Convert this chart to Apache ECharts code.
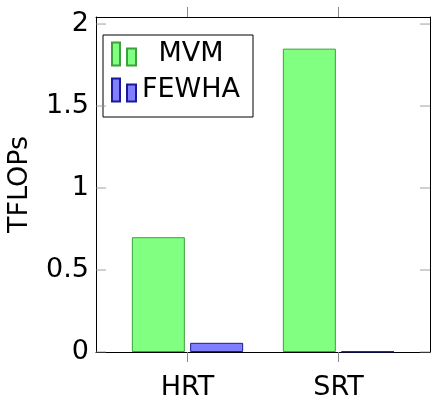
<!DOCTYPE html>
<html>
<head>
<meta charset="utf-8">
<script src="https://cdn.jsdelivr.net/npm/echarts@6/dist/echarts.min.js"></script>
<style>
  html, body { margin: 0; padding: 0; background: #fff; }
  #chart { width: 431px; height: 396px; }
</style>
</head>
<body>
<div id="chart"></div>
<script>
var categories = ['HRT', 'SRT'];
var mvm = [0.70, 1.85];
var fewha = [0.056, 0.003];
var yTicks = [0, 0.5, 1, 1.5, 2];

var font = 'DejaVu Sans';
var tickColor = '#8a8a8a';
var yMax = 2.043;
var icon = 'path://M0,0H8V23H0Z M15,6H24V23H15Z';

var frameX = function (pos) {
  return {
    gridIndex: 0, type: 'value', position: pos, min: 0, max: 1,
    axisLine: { show: true, onZero: false, lineStyle: { color: '#000', width: 1 } },
    axisTick: { show: false }, axisLabel: { show: false }, splitLine: { show: false }
  };
};
var frameY = function (pos, labels) {
  return {
    gridIndex: 0, type: 'value', position: pos, min: 0, max: yMax, interval: 0.5,
    axisLine: { show: true, onZero: false, lineStyle: { color: '#000', width: 1 } },
    axisTick: { show: false },
    splitLine: { show: false },
    axisLabel: labels ? {
      margin: 7, fontSize: 27, color: '#000', fontFamily: font, showMaxLabel: false,
      padding: [6, 0, 0, 0],
      formatter: function (v) { return yTicks.indexOf(v) >= 0 ? String(v) : ''; }
    } : { show: false }
  };
};
// short inward tick marks on the left and right frame edges
var tickSeries = function (xEdge, offset) {
  return {
    type: 'scatter', xAxisIndex: 0, yAxisIndex: 0, silent: true, z: 5,
    symbol: 'rect', symbolSize: [10, 1], symbolOffset: [offset, 0],
    itemStyle: { color: tickColor },
    data: yTicks.map(function (v) { return [xEdge, v]; })
  };
};

var yLeft = frameY('left', true);
yLeft.name = 'TFLOPs';
yLeft.nameLocation = 'middle';
yLeft.nameGap = 63;
yLeft.nameTextStyle = { fontSize: 27, color: '#000', fontFamily: font };

var myChart = echarts.init(document.getElementById('chart'));
myChart.setOption({
  animation: false,
  textStyle: { fontFamily: font, color: '#000' },
  grid: [
    { left: 96, top: 17, width: 334, height: 335, outerBoundsMode: 'none', containLabel: false },
    { left: 112, top: 17, width: 302, height: 335, outerBoundsMode: 'none', containLabel: false }
  ],
  legend: {
    orient: 'vertical',
    left: 103, top: 35,
    padding: [4, 12, 12, 8],
    borderColor: '#000', borderWidth: 1,
    itemWidth: 24, itemHeight: 23, itemGap: 6,
    icon: icon,
    formatter: function (n) { return '{a|' + n + '}'; },
    textStyle: {
      fontFamily: font, fontSize: 27, color: '#000', lineHeight: 30,
      rich: { a: { width: 100, align: 'center', fontSize: 27, fontFamily: font, lineHeight: 30 } }
    },
    data: ['MVM', 'FEWHA']
  },
  xAxis: [
    frameX('bottom'),
    frameX('top'),
    {
      gridIndex: 1, type: 'category', data: categories,
      axisLine: { show: true, lineStyle: { color: 'rgba(0,0,0,0)' } },
      axisTick: { show: true, alignWithLabel: true, length: 10, lineStyle: { color: tickColor } },
      axisLabel: { margin: 22, fontSize: 27, color: '#000', fontFamily: font }
    },
    {
      gridIndex: 1, type: 'category', data: categories, position: 'top',
      axisLine: { show: true, lineStyle: { color: 'rgba(0,0,0,0)' } },
      axisTick: { show: true, alignWithLabel: true, length: 10, lineStyle: { color: tickColor } },
      axisLabel: { show: false }
    }
  ],
  yAxis: [
    yLeft,
    frameY('right', false),
    { gridIndex: 1, type: 'value', min: 0, max: yMax, show: false, splitLine: { show: false } }
  ],
  series: [
    {
      name: 'MVM', type: 'bar', xAxisIndex: 2, yAxisIndex: 2,
      barWidth: 53, barGap: '10%',
      itemStyle: { color: '#80ff80', borderColor: '#3ca03c', borderWidth: 1 },
      data: mvm
    },
    {
      name: 'FEWHA', type: 'bar', xAxisIndex: 2, yAxisIndex: 2,
      barWidth: 53, barGap: '10%',
      itemStyle: { color: '#8080ff', borderColor: '#1a1a99', borderWidth: 1 },
      data: fewha
    },
    tickSeries(0, 5),
    tickSeries(1, -5)
  ]
});
</script>
</body>
</html>
